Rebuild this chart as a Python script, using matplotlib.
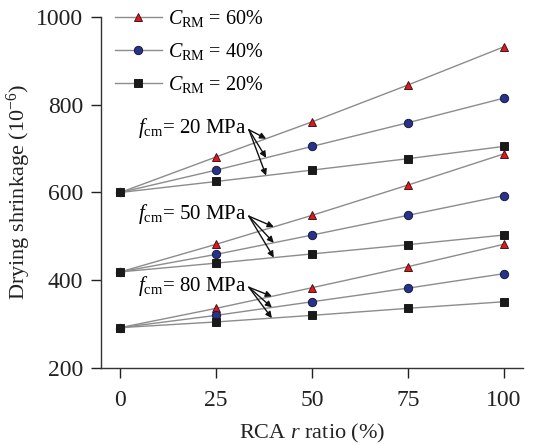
import matplotlib
matplotlib.use("Agg")
import matplotlib.pyplot as plt
import numpy as np

plt.rcParams['font.family'] = ['Liberation Serif', 'DejaVu Serif']
plt.rcParams['mathtext.fontset'] = 'custom'
plt.rcParams['mathtext.rm'] = 'Liberation Serif'
plt.rcParams['mathtext.it'] = 'Liberation Serif:italic'

# RCA replacement ratio (%)
rca = [0, 25, 50, 75, 100]

# drying shrinkage (10^-6), by f_cm then C_RM
f20_c60 = [600, 681, 761, 845, 932]
f20_c40 = [600, 651, 705, 759, 815]
f20_c20 = [600, 625, 651, 677, 705]

f50_c60 = [419, 482, 548, 617, 688]
f50_c40 = [419, 459, 503, 548, 593]
f50_c20 = [419, 439, 460, 481, 503]

f80_c60 = [292, 336, 383, 431, 482]
f80_c40 = [292, 320, 351, 382, 415]
f80_c20 = [292, 305, 320, 336, 351]

groups = [
    ("20", [f20_c60, f20_c40, f20_c20], 747, 38),
    ("50", [f50_c60, f50_c40, f50_c20], 550, 40),
    ("80", [f80_c60, f80_c40, f80_c20], 388, 39.5),
]

styles = [
    dict(marker='^', mfc='#e8141c', mec='#3a1a1a', label=r'$C_{\rm RM}$ = 60%'),
    dict(marker='o', mfc='#25338a', mec='#1a1a3a', label=r'$C_{\rm RM}$ = 40%'),
    dict(marker='s', mfc='#1a1a1a', mec='#1a1a1a', label=r'$C_{\rm RM}$ = 20%'),
]

fig = plt.figure(figsize=(5.35, 4.45), dpi=100)
ax = fig.add_axes([0.189, 0.173, 0.789, 0.789])

for gi, (fcm, series, ty, tx_end) in enumerate(groups):
    for si, vals in enumerate(series):
        st = dict(styles[si])
        if gi > 0:
            st['label'] = None
        ax.plot(rca, vals, color='#8c8c8c', lw=1.0, ms=6, mew=0.7, **st)
    ax.text(4.5, ty, r'$f_{\rm cm}$= ' + fcm + ' MPa', fontsize=15,
            va='center', ha='left')
    for vals in series:
        yt = np.interp(tx_end, rca, vals)
        ax.annotate('', xy=(tx_end, yt), xytext=(33.5, ty - 4),
                    arrowprops=dict(arrowstyle='-|>', color='#111111', lw=1.0,
                                    mutation_scale=9, shrinkA=0, shrinkB=0))

ax.set_xlim(-5, 105)
ax.set_ylim(200, 1000)
ax.set_xticks([0, 25, 50, 75, 100])
ax.set_yticks([200, 400, 600, 800, 1000])
ax.spines['top'].set_visible(False)
ax.spines['right'].set_visible(False)
for s in ['left', 'bottom']:
    ax.spines[s].set_color('#333333')
    ax.spines[s].set_linewidth(1.0)
ax.tick_params(direction='out', length=7, width=1.0, labelsize=17, colors='#222222')
ax.tick_params(axis='y', pad=6)
ax.tick_params(axis='x', pad=9)
ax.set_xlabel(r'RCA $r$ ratio (%)', fontsize=16, color='#222222', labelpad=8)
ax.set_ylabel(r'Drying shrinkage (10$^{-6}$)', fontsize=16, color='#222222', labelpad=2)

ax.legend(loc='upper left', bbox_to_anchor=(0.0, 1.065), frameon=False, fontsize=14.5,
          handlelength=2.3, labelspacing=0.6, handletextpad=0.3, borderaxespad=0.3)

fig.savefig('out.png', dpi=100)
